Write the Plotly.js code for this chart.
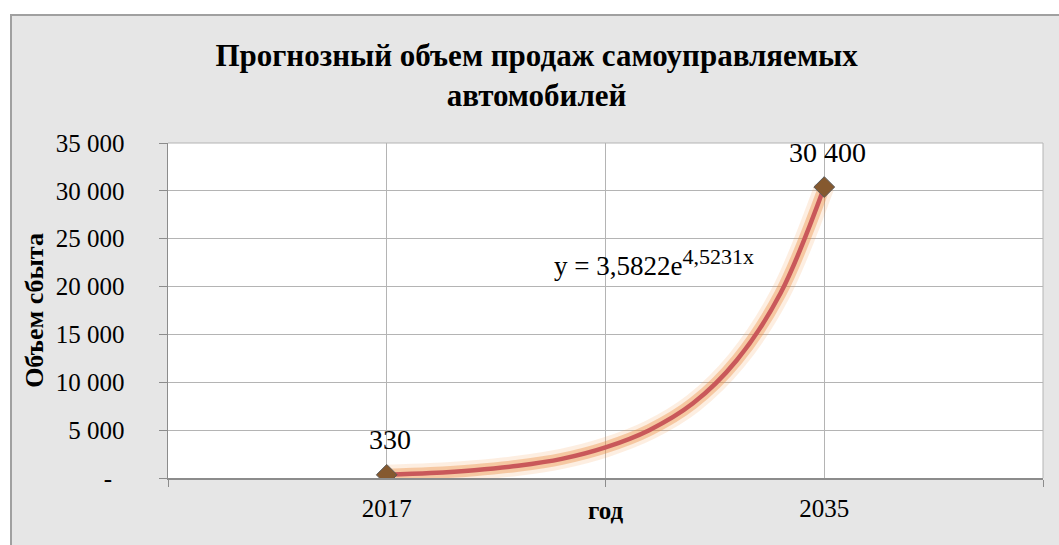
<!DOCTYPE html>
<html>
<head>
<meta charset="utf-8">
<script src="https://cdn.plot.ly/plotly-3.0.1.min.js"></script>
<style>
  html, body { margin: 0; padding: 0; background: #ffffff; width: 1059px; height: 545px; overflow: hidden; }
  #frame { position: absolute; left: 10px; top: 14px; width: 1049px; height: 531px;
           border-left: 2px solid #a0a0a0; border-top: 2px solid #a0a0a0; box-sizing: border-box; background: #e6e6e6; }
  #chart { width: 1047px; height: 529px; }
</style>
</head>
<body>
<div id="frame"><div id="chart"></div></div>
<script>
// Data
const categories = ["2017", "2035"];
const xPositions = [1, 2];
const values = [330, 30400];
const dataLabels = ["330", "30 400"];
// exponential trendline
const trendX = [1, 1.1, 1.2, 1.3, 1.4, 1.5, 1.6, 1.7, 1.8, 1.9, 2];
const trendY = [330, 520, 820, 1280, 2000, 3200, 5000, 7800, 12300, 19300, 30400];
const trendLabel = "y = 3,5822e<sup><span style='font-size:22px'>4,5231x</span></sup>";
const yTickVals = [0, 5000, 10000, 15000, 20000, 25000, 30000, 35000];
const yTickText = ["-\u00a0\u00a0", "5 000", "10 000", "15 000", "20 000", "25 000", "30 000", "35 000"];

const serif = "Liberation Serif, Times New Roman, serif";

const traces = [
  { x: trendX, y: trendY, mode: "lines", line: { shape: "spline", color: "rgba(240,150,70,0.16)", width: 20 }, hoverinfo: "skip", showlegend: false },
  { x: trendX, y: trendY, mode: "lines", line: { shape: "spline", color: "rgba(235,140,60,0.38)", width: 12 }, hoverinfo: "skip", showlegend: false },
  { x: trendX, y: trendY, mode: "lines", line: { shape: "spline", color: "#c9585a", width: 4.5 }, hoverinfo: "skip", showlegend: false },
  { x: xPositions, y: values, mode: "markers",
    marker: { symbol: "diamond", size: 16, color: "#85592f", line: { color: "#5a5a5a", width: 1 } },
    showlegend: false }
];

const annotations = xPositions.map((xv, i) => ({
  x: xv, y: values[i], xref: "x", yref: "y", text: dataLabels[i], showarrow: false,
  yshift: 35, xshift: 3, font: { family: serif, size: 28, color: "#000" }
}));
annotations.push({
  x: 1.611, y: 22500, xref: "x", yref: "y", text: trendLabel, showarrow: false,
  font: { family: serif, size: 27, color: "#000" }
});
annotations.push({
  x: 1.5, y: 0, xref: "x", yref: "paper", yanchor: "middle", yshift: -32, text: "<b>год</b>", showarrow: false,
  font: { family: serif, size: 25, color: "#000" }
});

const layout = {
  width: 1047, height: 529,
  margin: { l: 156, r: 16, t: 127, b: 67 },
  paper_bgcolor: "#e6e6e6",
  plot_bgcolor: "#ffffff",
  title: {
    text: "<b>Прогнозный объем продаж самоуправляемых<br>автомобилей</b>",
    font: { family: serif, size: 31, color: "#000" },
    x: 0.501, xanchor: "center", y: 0.906, yanchor: "top"
  },
  xaxis: {
    range: [0.5, 2.5],
    tickmode: "array", tickvals: xPositions, ticktext: categories,
    ticks: "", showgrid: true, gridcolor: "#b4b4b4", gridwidth: 1,
    ticklabelstandoff: 7,
    tickfont: { family: serif, size: 25, color: "#000" },
    showline: true, linecolor: "#8c8c8c", linewidth: 1.5, mirror: false,
    zeroline: false, fixedrange: true,
    minor: { tickmode: "array", tickvals: [0.5, 1.5, 2.5], ticks: "outside", ticklen: 7, tickcolor: "#8c8c8c", showgrid: true, gridcolor: "#b4b4b4" }
  },
  yaxis: {
    range: [0, 35000],
    tickmode: "array", tickvals: yTickVals, ticktext: yTickText,
    ticks: "outside", ticklen: 8, tickcolor: "#8c8c8c",
    showgrid: true, gridcolor: "#b4b4b4", gridwidth: 1,
    ticklabelstandoff: 29,
    tickfont: { family: serif, size: 25, color: "#000" },
    showline: true, linecolor: "#8c8c8c", linewidth: 1.5,
    zeroline: false, fixedrange: true,
    title: { text: "<b>Объем сбыта</b>", font: { family: serif, size: 26, color: "#000" }, standoff: 4 }
  },
  shapes: [
    { type: "line", xref: "paper", yref: "paper", x0: 1, x1: 1, y0: 0, y1: 1, line: { color: "#b4b4b4", width: 1 } },
    { type: "line", xref: "paper", yref: "paper", x0: 0, x1: 1, y0: 1, y1: 1, line: { color: "#b4b4b4", width: 1 } }
  ],
  annotations: annotations
};

Plotly.newPlot("chart", traces, layout, { displayModeBar: false, staticPlot: true });
</script>
</body>
</html>
